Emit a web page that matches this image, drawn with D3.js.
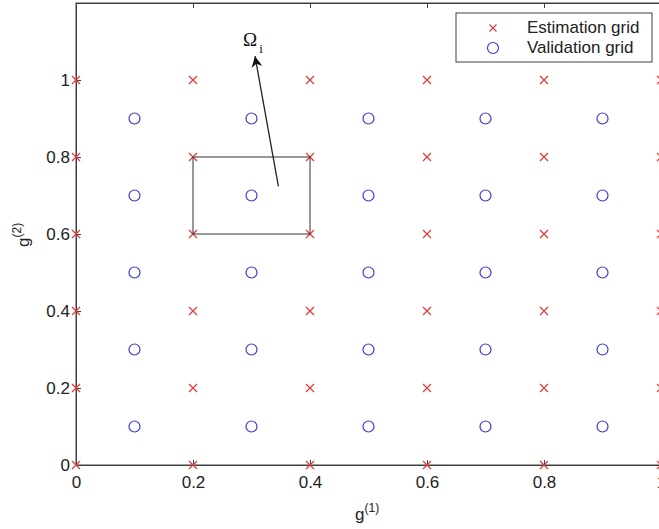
<!DOCTYPE html>
<html><head><meta charset="utf-8">
<script src="https://cdn.jsdelivr.net/npm/d3@7"></script>
<style>body{margin:0;background:#fff;overflow:hidden}svg{display:block}text{font-family:"Liberation Sans",Arial,sans-serif}</style>
</head><body>
<script>
const estX = [0, 0.2, 0.4, 0.6, 0.8, 1];
const estY = [0, 0.2, 0.4, 0.6, 0.8, 1];
const valX = [0.1, 0.3, 0.5, 0.7, 0.9];
const valY = [0.1, 0.3, 0.5, 0.7, 0.9];
const xTicks = [0, 0.2, 0.4, 0.6, 0.8, 1];
const yTicks = [0, 0.2, 0.4, 0.6, 0.8, 1];
const rectBox = [0.2, 0.6, 0.4, 0.8];
const arrowFrom = [0.346, 0.724];
const arrowTo = [0.306, 1.062];
const legendLabels = ["Estimation grid", "Validation grid"];

const W = 659, H = 529;
const svg = d3.select("body").append("svg").attr("width", W).attr("height", H);
const x = d3.scaleLinear().domain([0, 1]).range([76, 661]);
const y = d3.scaleLinear().domain([0, 1.2]).range([465, 3]);
const red = "#dd3a3a", blue = "#3b3bd0";

// frame
svg.append("rect").attr("x", x(0)).attr("y", y(1.2)).attr("width", x(1) - x(0)).attr("height", y(0) - y(1.2))
  .attr("fill", "none").attr("stroke", "#404040").attr("stroke-width", 1);

// axes
const xa = svg.append("g").attr("transform", `translate(0,${y(0)})`)
  .call(d3.axisBottom(x).tickValues(xTicks).tickFormat(d3.format("")).tickSizeInner(-5).tickSizeOuter(0).tickPadding(11));
const xt = svg.append("g").attr("transform", `translate(0,${y(1.2)})`)
  .call(d3.axisTop(x).tickValues(xTicks).tickFormat("").tickSizeInner(-5).tickSizeOuter(0));
const ya = svg.append("g").attr("transform", `translate(${x(0)},0)`)
  .call(d3.axisLeft(y).tickValues(yTicks).tickFormat(d3.format("")).tickSizeInner(-5).tickSizeOuter(0).tickPadding(6));
[xa, xt, ya].forEach(g => {
  g.select(".domain").attr("stroke", "#404040");
  g.selectAll(".tick line").attr("stroke", "#404040");
  g.selectAll("text").attr("font-size", 17).attr("fill", "#222").attr("font-family", "'Liberation Sans',Arial,sans-serif");
});

// estimation grid (x markers)
const est = [];
estX.forEach(a => estY.forEach(b => est.push([a, b])));
const s = 4;
svg.append("g").selectAll("path").data(est).join("path")
  .attr("d", d => `M${x(d[0]) - s},${y(d[1]) - s}L${x(d[0]) + s},${y(d[1]) + s}M${x(d[0]) - s},${y(d[1]) + s}L${x(d[0]) + s},${y(d[1]) - s}`)
  .attr("stroke", red).attr("stroke-width", 1.2).attr("fill", "none");

// validation grid (circles)
const val = [];
valX.forEach(a => valY.forEach(b => val.push([a, b])));
svg.append("g").selectAll("circle").data(val).join("circle")
  .attr("cx", d => x(d[0])).attr("cy", d => y(d[1])).attr("r", 5.5)
  .attr("fill", "none").attr("stroke", blue).attr("stroke-width", 1.2);

// rectangle
svg.append("rect").attr("x", x(rectBox[0])).attr("y", y(rectBox[3]))
  .attr("width", x(rectBox[2]) - x(rectBox[0])).attr("height", y(rectBox[1]) - y(rectBox[3]))
  .attr("fill", "none").attr("stroke", "#333").attr("stroke-width", 1);

// arrow
svg.append("defs").append("marker").attr("id", "ah").attr("viewBox", "0 0 10 10").attr("refX", 10).attr("refY", 5)
  .attr("markerWidth", 14).attr("markerHeight", 11).attr("markerUnits", "userSpaceOnUse").attr("orient", "auto")
  .append("path").attr("d", "M0,0L10,5L0,10L3,5Z").attr("fill", "#111");
svg.append("line").attr("x1", x(arrowFrom[0])).attr("y1", y(arrowFrom[1])).attr("x2", x(arrowTo[0])).attr("y2", y(arrowTo[1]))
  .attr("stroke", "#222").attr("stroke-width", 1.3).attr("marker-end", "url(#ah)");
const om = svg.append("text").attr("x", x(arrowTo[0]) - 12).attr("y", y(arrowTo[1]) - 10)
  .attr("font-size", 19).attr("fill", "#111").style("font-family", "'Liberation Serif','Times New Roman',serif");
om.append("tspan").text("Ω");
om.append("tspan").attr("font-size", 13).attr("dx", 2).attr("dy", 7).text("i");

// labels
const xl = svg.append("text").attr("x", 355).attr("y", 520).attr("font-size", 17).attr("fill", "#222");
xl.append("tspan").text("g");
xl.append("tspan").attr("font-size", 12).attr("dy", -8).text("(1)");
const yl = svg.append("text").attr("transform", `translate(29,247) rotate(-90)`).attr("font-size", 17).attr("fill", "#222");
yl.append("tspan").text("g");
yl.append("tspan").attr("font-size", 12).attr("dy", -8).text("(2)");

// legend
const lg = svg.append("g");
lg.append("rect").attr("x", 456).attr("y", 13).attr("width", 196).attr("height", 49).attr("fill", "#fff").attr("stroke", "#404040");
const lx = 493;
lg.append("path").attr("d", `M${lx - 3.5},${28 - 3.5}L${lx + 3.5},${28 + 3.5}M${lx - 3.5},${28 + 3.5}L${lx + 3.5},${28 - 3.5}`)
  .attr("stroke", red).attr("stroke-width", 1.2);
lg.append("circle").attr("cx", lx).attr("cy", 48).attr("r", 5.5).attr("fill", "none").attr("stroke", blue).attr("stroke-width", 1.2);
lg.selectAll("text.l").data(legendLabels).join("text").attr("class", "l")
  .attr("x", 527).attr("y", (d, i) => 33 + i * 20).attr("font-size", 17).attr("fill", "#222").text(d => d);
</script>
</body></html>
